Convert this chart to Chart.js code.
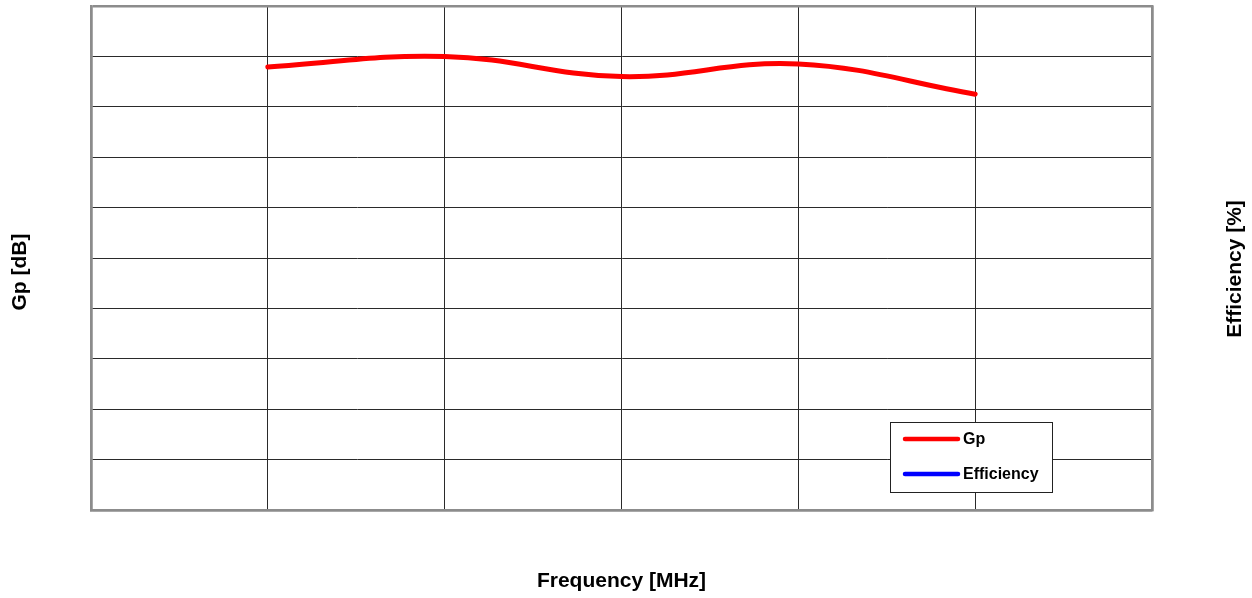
<!DOCTYPE html>
<html>
<head>
<meta charset="utf-8">
<script src="https://cdn.jsdelivr.net/npm/chart.js@4"></script>
<style>
  html, body { margin: 0; padding: 0; background: #fff; }
  #wrap { width: 1252px; height: 598px; }
</style>
</head>
<body>
<div id="wrap"><canvas id="gpChart"></canvas></div>
<script>
// frequency positions (axis has no printed labels) and measured values
const freqs = [1, 2, 3, 4, 5];
const gpValues = [8.79, 9.0, 8.6, 8.85, 8.25];
const effValues = [];

const leftTitle = 'Gp [dB]';
const rightTitle = 'Efficiency [%]';

const FONT = 'Liberation Sans, Arial, sans-serif';
const edgeGrid = { inner: '#2a2a2a', edge: '#8c8c8c' };

function gridColor(c) {
    const n = c.scale.ticks.length;
    return (c.index === 0 || c.index === n - 1) ? edgeGrid.edge : edgeGrid.inner;
}
function gridWidth(c) {
    const n = c.scale.ticks.length;
    return (c.index === 0 || c.index === n - 1) ? 2.5 : 1;
}

// both vertical titles read bottom-to-top, so draw them here
const sideTitles = {
    id: 'sideTitles',
    afterDraw(chart) {
        const g = chart.ctx;
        const a = chart.chartArea;
        const cy = (a.top + a.bottom) / 2 + 13;
        g.save();
        g.font = 'bold 21px ' + FONT;
        g.fillStyle = '#000';
        g.textAlign = 'center';
        g.textBaseline = 'middle';
        [[20, leftTitle, 1], [chart.width - 17, rightTitle, -2]].forEach(([x, t, dy]) => {
            g.save();
            g.translate(x, cy + dy);
            g.rotate(-Math.PI / 2);
            g.fillText(t, 0, 0);
            g.restore();
        });
        g.restore();
    }
};

// legend box drawn inside the plot, bottom right
const boxLegend = {
    id: 'boxLegend',
    afterDraw(chart) {
        const g = chart.ctx;
        const a = chart.chartArea;
        const x = a.right - 262, y = a.bottom - 88, w = 162, h = 70;
        g.save();
        g.fillStyle = '#fff';
        g.fillRect(x, y, w, h);
        g.strokeStyle = '#222';
        g.lineWidth = 1;
        g.strokeRect(x + 0.5, y + 0.5, w, h);
        g.font = 'bold 16px ' + FONT;
        g.textBaseline = 'middle';
        chart.data.datasets.forEach((ds, i) => {
            const ly = y + 17 + i * 35;
            g.strokeStyle = ds.borderColor;
            g.lineWidth = 4.5;
            g.lineCap = 'round';
            g.beginPath();
            g.moveTo(x + 15, ly);
            g.lineTo(x + 68, ly);
            g.stroke();
            g.fillStyle = '#000';
            g.fillText(ds.label, x + 73, ly + 1);
        });
        g.restore();
    }
};

const ctx = document.getElementById('gpChart').getContext('2d');

new Chart(ctx, {
    type: 'line',
    data: {
        datasets: [{
            label: 'Gp',
            data: freqs.map((f, i) => ({ x: f, y: gpValues[i] })),
            borderColor: '#ff0000',
            borderWidth: 5,
            pointRadius: 0,
            tension: 0.4,
            borderCapStyle: 'round',
            yAxisID: 'y'
        }, {
            label: 'Efficiency',
            data: effValues,
            borderColor: '#0000ff',
            borderWidth: 5,
            pointRadius: 0,
            yAxisID: 'y2'
        }]
    },
    options: {
        responsive: true,
        maintainAspectRatio: false,
        animation: false,
        layout: { padding: { top: 6, left: 0, right: 0, bottom: 0 } },
        plugins: {
            legend: { display: false },
            tooltip: { enabled: false }
        },
        scales: {
            x: {
                type: 'linear',
                min: 0, max: 6,
                ticks: { display: false, stepSize: 1 },
                grid: { color: gridColor, lineWidth: gridWidth, drawTicks: false },
                border: { color: edgeGrid.edge, width: 2.5 },
                title: {
                    display: true, text: 'Frequency [MHz]', color: '#000',
                    font: { family: FONT, size: 21, weight: 'bold' }
                },
                afterFit(s) { s.height = 88; }
            },
            y: {
                position: 'left',
                min: 0, max: 10,
                ticks: { display: false, stepSize: 1 },
                grid: { color: gridColor, lineWidth: gridWidth, drawTicks: false },
                border: { color: edgeGrid.edge, width: 2.5 },
                afterFit(s) { s.width = 91; }
            },
            y2: {
                position: 'right',
                min: 0, max: 100,
                ticks: { display: false },
                grid: { display: false },
                border: { color: edgeGrid.edge, width: 2.5 },
                afterFit(s) { s.width = 100; }
            }
        }
    },
    plugins: [boxLegend, sideTitles]
});
</script>
</body>
</html>
